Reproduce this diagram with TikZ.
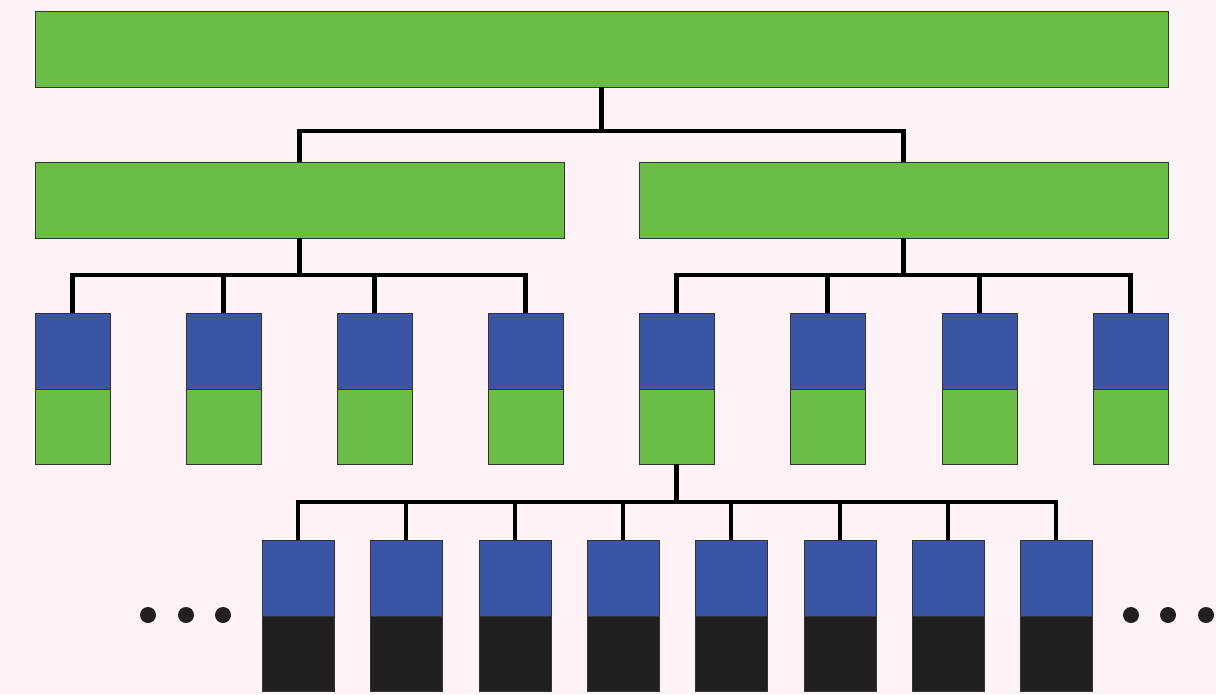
\documentclass[tikz,border=0pt]{standalone}
\definecolor{bgc}{HTML}{FDF2F5}
\definecolor{grn}{HTML}{6ABD45}
\definecolor{blu}{HTML}{3A55A4}
\definecolor{blk}{HTML}{231F20}
\begin{document}
\begin{tikzpicture}[x=1pt,y=-1pt,
  box/.style={draw=black!80,line width=0.8pt,inner sep=0pt,outer sep=0pt,anchor=north west},
  gbox/.style={box,fill=grn},
  bbox/.style={box,fill=blu},
  kbox/.style={box,fill=blk},
  wire/.style={line width=4.3pt,draw=black,line cap=rect,line join=miter},
  dot/.style={circle,fill=blk,inner sep=0pt,minimum size=16pt}]
\fill[bgc] (0,0) rectangle (1216,694);
\useasboundingbox (0,0) rectangle (1216,694);
% level 1
\node[gbox,minimum width=1133pt,minimum height=76pt] (top) at (35,11) {};
% level 2
\node[gbox,minimum width=529pt,minimum height=76pt] (L) at (35,162) {};
\node[gbox,minimum width=529pt,minimum height=76pt] (R) at (639,162) {};
% connectors level1-2
\coordinate (j1) at (601.5,131);
\draw[wire,line cap=butt] (top.south) -- (j1);
\draw[wire,line cap=butt] (L.north) |- (j1) -| (R.north);
% level 3
\foreach \i/\x in {1/35,2/186,3/337,4/488,5/639,6/790,7/942,8/1093}{
  \node[bbox,minimum width=75pt,minimum height=76pt] (c\i) at (\x,313) {};
  \node[gbox,minimum width=75pt,minimum height=75pt] (d\i) at (\x,389) {};
}
\coordinate (jl) at (299.5,275);
\coordinate (jr) at (903.5,275);
\draw[wire,line cap=butt] (L.south) -- (jl);
\draw[wire,line cap=butt] (R.south) -- (jr);
\draw[wire,line cap=butt] (c1.north) |- (jl) -| (c4.north);
\draw[wire,line cap=butt] (c2.north) -- (c2.north |- jl);
\draw[wire,line cap=butt] (c3.north) -- (c3.north |- jl);
\draw[wire,line cap=butt] (c5.north) |- (jr) -| (c8.north);
\draw[wire,line cap=butt] (c6.north) -- (c6.north |- jr);
\draw[wire,line cap=butt] (c7.north) -- (c7.north |- jr);
% level 4
\foreach \i/\x in {1/262,2/370,3/479,4/587,5/695,6/804,7/912,8/1020}{
  \node[bbox,minimum width=72pt,minimum height=76pt] (e\i) at (\x,540) {};
  \node[kbox,minimum width=72pt,minimum height=75pt] (f\i) at (\x,616) {};
}
\coordinate (jb) at (676.5,502);
\draw[wire,line cap=butt] (d5.south) -- (jb);
\draw[wire,line cap=butt] (e1.north) |- (jb) -| (e8.north);
\foreach \i in {2,...,7}{
  \draw[wire,line cap=butt] (e\i.north) -- (e\i.north |- jb);
}
% dots
\node[dot] (p1) at (148,615) {};
\node[dot] (p2) at (186,615) {};
\node[dot] (p3) at (223,615) {};
\node[dot] (q1) at (1131,615) {};
\node[dot] (q2) at (1168,615) {};
\node[dot] (q3) at (1206,615) {};
\end{tikzpicture}
\end{document}
